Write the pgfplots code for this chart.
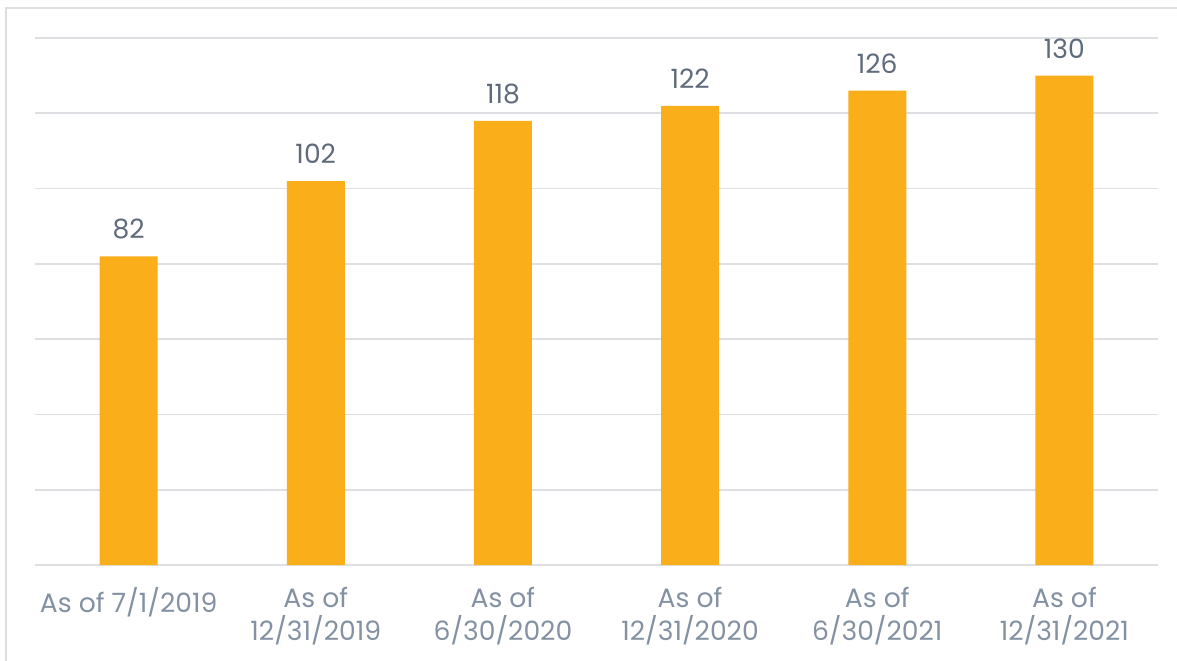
\documentclass[border=0pt]{standalone}
\usepackage{pgfplots}
\pgfplotsset{compat=1.18}
\usepackage{fontspec}
\setmainfont{Poppins}
\definecolor{barc}{HTML}{FAAE1A}
\definecolor{gridc}{HTML}{DDDFE2}
\definecolor{labc}{HTML}{8391A2}
\definecolor{datc}{HTML}{5F6B7A}
\begin{document}
\begin{tikzpicture}
\useasboundingbox (-17.5pt,-47.5pt) rectangle (571pt,282.5pt);
\draw[line width=1pt, color=gridc] (-14.5pt,-49pt) rectangle (572.5pt,278.5pt);
\begin{axis}[
  at={(0pt,0pt)}, anchor=south west, scale only axis,
  width=561.5pt, height=263.5pt,
  ybar, bar width=29pt,
  xmin=-0.5, xmax=5.5, ymin=0, ymax=140,
  ytick={0,20,...,140}, yticklabels={},
  ymajorgrids, grid style={gridc, line width=0.8pt},
  axis line style={draw=none},
  major tick length=0pt,
  xtick={0,1,2,3,4,5},
  xticklabels={As of 7/1/2019, {As of\\12/31/2019}, {As of\\6/30/2020}, {As of\\12/31/2020}, {As of\\6/30/2021}, {As of\\12/31/2021}},
  xticklabel style={align=center, font=\fontsize{13.3}{16.8}\selectfont, text=labc, yshift=-7.5pt},
  nodes near coords,
  nodes near coords style={font=\fontsize{13.3}{15}\selectfont, text=datc, yshift=5pt, /pgf/number format/assume math mode=true},
]
\addplot[fill=barc, draw=none] coordinates {(0,82) (1,102) (2,118) (3,122) (4,126) (5,130)};
\end{axis}
\end{tikzpicture}
\end{document}
